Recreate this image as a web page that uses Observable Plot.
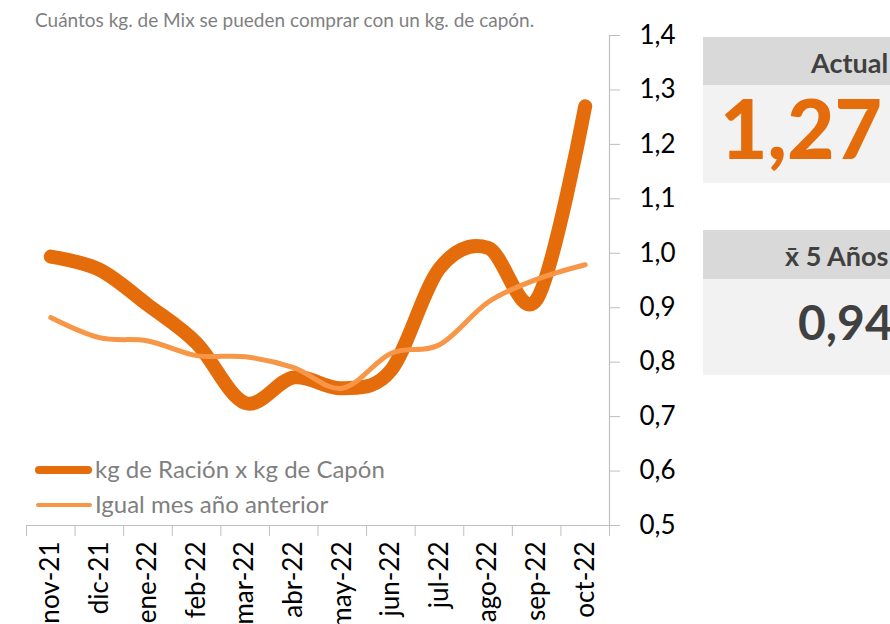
<!DOCTYPE html>
<html>
<head>
<meta charset="utf-8">
<script src="https://cdn.jsdelivr.net/npm/d3@7"></script>
<script src="https://cdn.jsdelivr.net/npm/@observablehq/plot@0.6"></script>
<style>
  html, body { margin: 0; padding: 0; background: #fff; }
  body { width: 890px; height: 624px; position: relative; overflow: hidden; font-family: Lato, "Open Sans", sans-serif; }
  #chart { position: absolute; left: 0; top: 0; }
  .abs { position: absolute; white-space: nowrap; }
  .subtitle { left: 35px; top: 8px; font-size: 19px; color: #7f7f7f; }
  .leg-line { position: absolute; border-radius: 6px; }
  .leg-text { font-size: 24px; color: #7f7f7f; }
  .hdr { background: #d9d9d9; }
  .val { background: #f2f2f2; }
</style>
</head>
<body>
<div id="chart"></div>
<div class="abs subtitle">Cuántos kg. de Mix se pueden comprar con un kg. de capón.</div>

<div class="leg-line" style="left:35px; top:466px; width:57px; height:8px; background:#E46C0A;"></div>
<div class="abs leg-text" style="left:95px; top:454px;">kg de Ración x kg de Capón</div>
<div class="leg-line" style="left:36px; top:503px; width:56px; height:4px; background:#F79646;"></div>
<div class="abs leg-text" style="left:95px; top:489px;">Igual mes año anterior</div>

<div class="abs hdr" style="left:703px; top:37px; width:200px; height:48px;"></div>
<div class="abs val" style="left:703px; top:85px; width:200px; height:98px;"></div>
<div class="abs" style="left:811px; top:46px; font-size:27px; font-weight:bold; color:#404040;">Actual</div>
<div class="abs" style="left:720px; top:78px; font-size:82px; font-weight:900; color:#E46C0A; line-height:1.2;">1,27</div>

<div class="abs hdr" style="left:703px; top:230px; width:200px; height:49px;"></div>
<div class="abs val" style="left:703px; top:279px; width:200px; height:96px;"></div>
<div class="abs" style="left:785px; top:239px; font-size:27px; font-weight:bold; color:#404040;">x̄ 5 Años</div>
<div class="abs" style="left:798px; top:293px; font-size:48px; font-weight:bold; color:#404040; line-height:1.2;">0,94</div>

<script>
const months = ["nov-21","dic-21","ene-22","feb-22","mar-22","abr-22","may-22","jun-22","jul-22","ago-22","sep-22","oct-22"];
const racionCapon = [0.994, 0.970, 0.905, 0.835, 0.725, 0.772, 0.752, 0.785, 0.972, 1.010, 0.915, 1.270];
const igualMesAnterior = [0.882, 0.845, 0.839, 0.812, 0.810, 0.790, 0.752, 0.816, 0.832, 0.910, 0.952, 0.979];
const yTicks = [0.5, 0.6, 0.7, 0.8, 0.9, 1.0, 1.1, 1.2, 1.3, 1.4];

const idx = months.map((m, i) => i);
const bounds = d3.range(-0.5, months.length, 1);
const fmt = d => d.toFixed(1).replace(".", ",");

const chart = Plot.plot({
  width: 890,
  height: 624,
  marginLeft: 26,
  marginRight: 281,
  marginTop: 35,
  marginBottom: 99,
  style: { fontFamily: "Lato, 'Open Sans', sans-serif", background: "transparent" },
  x: { type: "linear", domain: [-0.5, months.length - 0.5] },
  y: { domain: [0.5, 1.4] },
  marks: [
    Plot.ruleY([0.5], { stroke: "#bfbfbf", strokeWidth: 1.2 }),
    Plot.ruleX([months.length - 0.5], { y1: 0.5, y2: 1.4, stroke: "#bfbfbf", strokeWidth: 1.2 }),
    Plot.axisY({ anchor: "right", ticks: yTicks, tickSize: 10, tickPadding: 20, tickFormat: fmt,
      fontSize: 26, stroke: "#bfbfbf", fill: "#000", label: null }),
    Plot.axisX({ ticks: bounds, tickSize: 11, tickFormat: () => "", stroke: "#bfbfbf", label: null }),
    Plot.axisX({ ticks: idx, tickSize: 0, tickPadding: 16, tickRotate: -90, tickFormat: i => months[i],
      fontSize: 26, fill: "#000", label: null }),
    Plot.line(idx, { x: i => i, y: i => racionCapon[i], curve: "cardinal",
      stroke: "#E46C0A", strokeWidth: 14, strokeLinecap: "round", strokeLinejoin: "round" }),
    Plot.line(idx, { x: i => i, y: i => igualMesAnterior[i], curve: "cardinal",
      stroke: "#F79646", strokeWidth: 5, strokeLinecap: "round", strokeLinejoin: "round" })
  ]
});
document.getElementById("chart").appendChild(chart);
</script>
</body>
</html>
